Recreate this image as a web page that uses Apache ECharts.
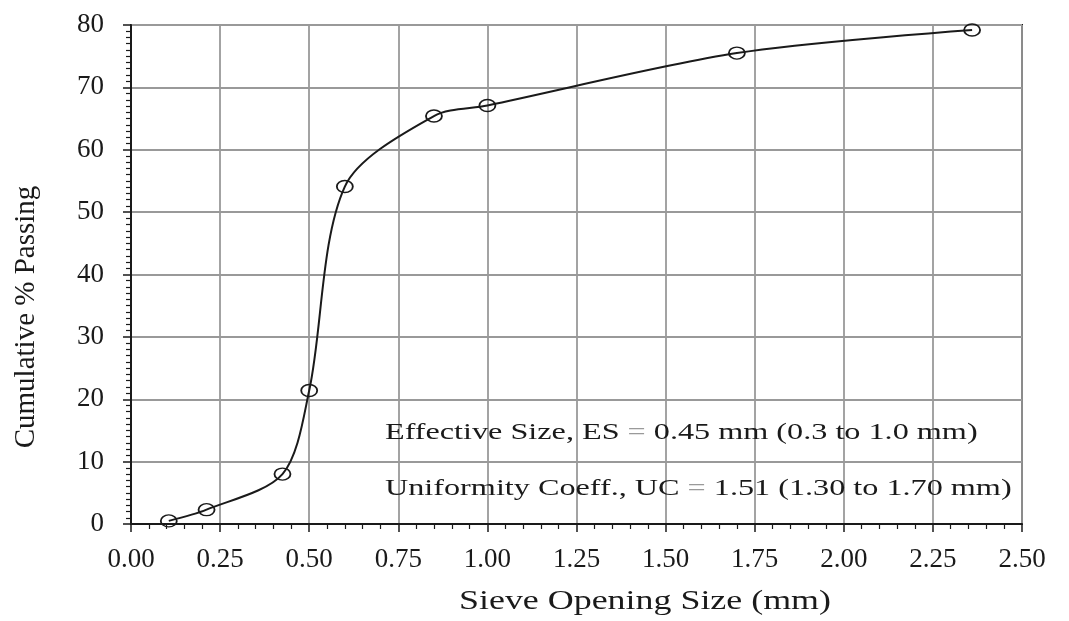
<!DOCTYPE html>
<html>
<head>
<meta charset="utf-8">
<script src="https://cdn.jsdelivr.net/npm/echarts@6/dist/echarts.min.js"></script>
<style>
  html, body { margin: 0; padding: 0; background: #fff; }
  #chart { width: 1069px; height: 621px; }
</style>
</head>
<body>
<div id="chart"></div>
<script>
// sieve sizes (mm) and cumulative % passing
const sieveSizes = [0.106, 0.212, 0.425, 0.5, 0.6, 0.85, 1.0, 1.7, 2.36];
const passing    = [0.5, 2.3, 8.0, 21.4, 54.1, 65.4, 67.1, 75.5, 79.2];

const xTicks = { min: 0, max: 2.5, step: 0.25, minor: 5 };
const yTicks = { min: 0, max: 80, step: 10, minor: 10 };

const xTitle = 'Sieve Opening Size (mm)';
const yTitle = 'Cumulative % Passing';
const notes = [
  ['Effective Size, ES ', '= ', '0.45 mm (0.3 to 1.0 mm)'],
  ['Uniformity Coeff., UC ', '= ', '1.51 (1.30 to 1.70 mm)'],
];

const FONT = '"Liberation Serif", "Times New Roman", serif';
const INK = '#1a1a1a';

const chart = echarts.init(document.getElementById('chart'), null, { renderer: 'canvas' });

// a second, label-less axis on each side just draws the inner ticks
function overlayAxis(t) {
  return {
    type: 'value', min: t.min, max: t.max, interval: t.step,
    axisLine: { show: false },
    axisLabel: { show: false },
    splitLine: { show: false },
    axisTick: { show: true, inside: true, length: 8, lineStyle: { color: INK, width: 1.5 } },
    minorTick: { show: true, splitNumber: t.minor, length: 5, lineStyle: { color: INK, width: 1.2 } },
  };
}

function mainAxis(t, extra) {
  return Object.assign({
    type: 'value', min: t.min, max: t.max, interval: t.step,
    axisLine: { show: true, lineStyle: { color: INK, width: 2 } },
    axisTick: { show: true, inside: false, length: 8, lineStyle: { color: INK, width: 1.5 } },
    splitLine: { show: true, lineStyle: { color: '#999', width: 1.8 } },
  }, extra);
}

const option = {
  backgroundColor: '#fff',
  animation: false,
  grid: {
    left: 131, right: 47, top: 25, bottom: 97,
    show: true, borderColor: INK, borderWidth: 2,
  },
  xAxis: [mainAxis(xTicks, {
    axisLabel: {
      margin: 22, fontFamily: FONT, fontSize: 27, color: INK,
      formatter: v => v.toFixed(2),
    },
  }), overlayAxis(xTicks)],
  yAxis: [mainAxis(yTicks, {
    axisLabel: { margin: 27, fontFamily: FONT, fontSize: 27, color: INK },
  }), overlayAxis(yTicks)],
  series: [{
    type: 'line',
    data: sieveSizes.map((s, i) => [s, passing[i]]),
    smooth: 0.3,
    symbol: 'circle',
    symbolSize: [16, 12],
    lineStyle: { color: INK, width: 2 },
    itemStyle: { color: 'rgba(0,0,0,0)', borderColor: INK, borderWidth: 1.6 },
    z: 5,
  }],
  graphic: [
    {
      type: 'text', x: 645, y: 602, scaleX: 1.33, z: 10,
      style: { text: xTitle, fontFamily: FONT, fontSize: 27, fill: INK, align: 'center', verticalAlign: 'middle' },
    },
    {
      type: 'text', x: 26, y: 317, rotation: Math.PI / 2, z: 10,
      style: { text: yTitle, fontFamily: FONT, fontSize: 29, fill: INK, align: 'center', verticalAlign: 'middle' },
    },
  ].concat(notes.map((n, i) => ({
    type: 'text', x: 385, y: 433 + i * 56, scaleX: 1.4, z: 10,
    style: {
      text: `{a|${n[0]}}{b|${n[1]}}{a|${n[2]}}`,
      verticalAlign: 'middle',
      rich: {
        a: { fontFamily: FONT, fontSize: 23, fill: INK },
        b: { fontFamily: FONT, fontSize: 23, fill: '#9a9a9a' },
      },
    },
  }))),
};

chart.setOption(option);
</script>
</body>
</html>
